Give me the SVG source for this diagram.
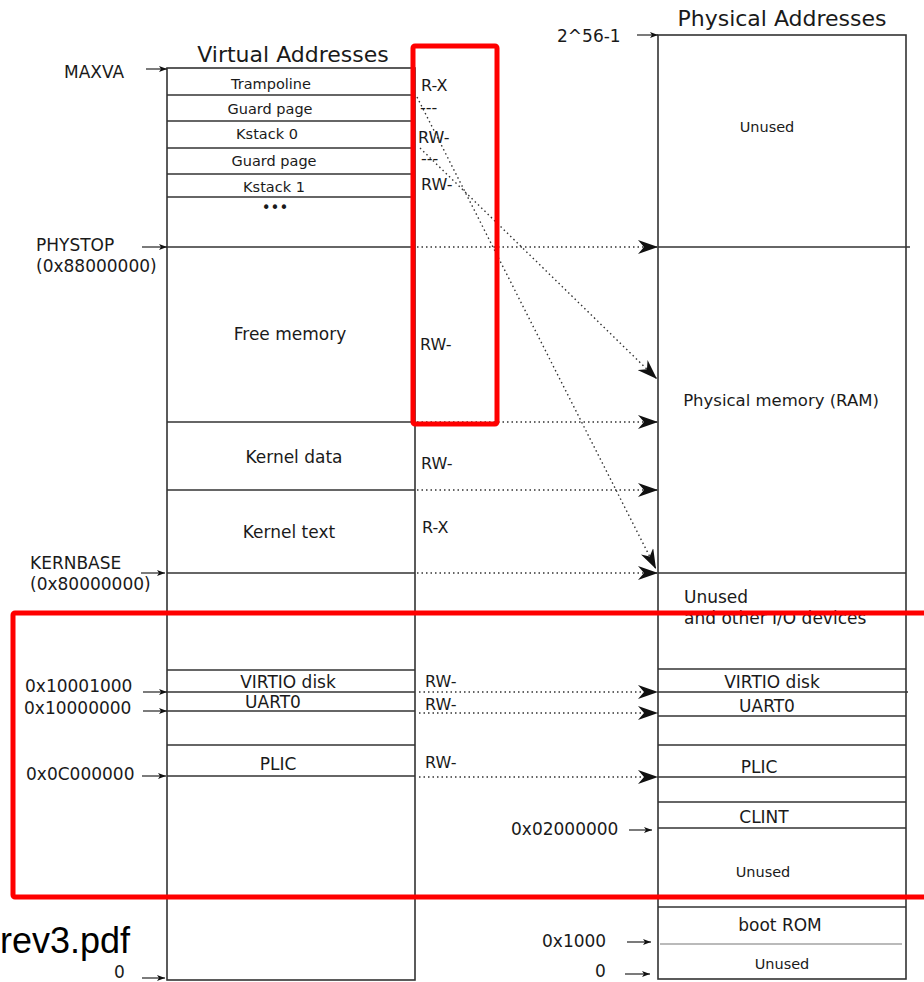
<svg xmlns="http://www.w3.org/2000/svg" width="924" height="982" viewBox="0 0 924 982">
<style>
  text { font-family: "DejaVu Sans", "Noto Sans", sans-serif; fill: #1a1a1a; }
  .t17 { font-size: 17px; }
  .sm { font-size: 14.5px; }
  .perm { font-size: 16px; }
  .title { font-size: 22px; }
  .mid { text-anchor: middle; }
  .box { fill: none; stroke: #333; stroke-width: 1.6; }
  .ln { stroke: #333; stroke-width: 1.6; }
  .thin { stroke: #777; stroke-width: 1.2; }
  .dot { stroke: #333; stroke-width: 1.4; stroke-dasharray: 1.5 3; fill: none; }
  .lab { stroke: #222; stroke-width: 1.2; fill: none; }
  .red { fill: none; stroke: #ff0000; stroke-width: 5; }
</style>
<defs>
  <marker id="dart" markerUnits="userSpaceOnUse" markerWidth="22" markerHeight="14" refX="20" refY="7" orient="auto">
    <path d="M0,0 L20,7 L0,14 L6,7 Z" fill="#111"/>
  </marker>
  <marker id="small" markerUnits="userSpaceOnUse" markerWidth="9" markerHeight="6" refX="8" refY="3" orient="auto">
    <path d="M0,0 L8,3 L0,6 L2,3 Z" fill="#111"/>
  </marker>
</defs>
<rect width="924" height="982" fill="#ffffff"/>

<g id="virtual">
  <text class="title mid" x="293" y="62">Virtual Addresses</text>
  <rect class="box" x="167" y="68" width="248" height="912"/>
  <g class="ln">
    <line x1="167" y1="95" x2="415" y2="95"/>
    <line x1="167" y1="121" x2="415" y2="121"/>
    <line x1="167" y1="148" x2="415" y2="148"/>
    <line x1="167" y1="174" x2="415" y2="174"/>
    <line x1="167" y1="197" x2="415" y2="197"/>
    <line x1="167" y1="247" x2="415" y2="247"/>
    <line x1="167" y1="422" x2="415" y2="422"/>
    <line x1="167" y1="490" x2="415" y2="490"/>
    <line x1="167" y1="573" x2="415" y2="573"/>
    <line x1="167" y1="670" x2="415" y2="670"/>
    <line x1="167" y1="692" x2="415" y2="692"/>
    <line x1="167" y1="711" x2="415" y2="711"/>
    <line x1="167" y1="745" x2="415" y2="745"/>
    <line x1="167" y1="776" x2="415" y2="776"/>
  </g>
  <g id="va-trampoline"><text class="sm mid" x="271" y="89">Trampoline</text><text class="perm" x="421" y="91">R-X</text></g>
  <g id="va-guard0"><text class="sm mid" x="270" y="114">Guard page</text><text class="perm" x="420" y="113">---</text></g>
  <g id="va-kstack0"><text class="sm mid" x="267" y="139">Kstack 0</text><text class="perm" x="418" y="143">RW-</text></g>
  <g id="va-guard1"><text class="sm mid" x="274" y="166">Guard page</text><text class="perm" x="421" y="164">---</text></g>
  <g id="va-kstack1"><text class="sm mid" x="274" y="192">Kstack 1</text><text class="perm" x="421" y="190">RW-</text></g>
  <g id="va-dots"><text class="mid" x="275" y="213" style="font-size:15px">•••</text></g>
  <g id="va-free"><text class="t17 mid" x="290" y="340">Free memory</text><text class="perm" x="420" y="350">RW-</text></g>
  <g id="va-kdata"><text class="t17 mid" x="294" y="463">Kernel data</text><text class="perm" x="421" y="469">RW-</text></g>
  <g id="va-ktext"><text class="t17 mid" x="289" y="538">Kernel text</text><text class="perm" x="422" y="533">R-X</text></g>
  <g id="va-virtio"><text class="t17 mid" x="288" y="688">VIRTIO disk</text><text class="perm" x="425" y="687">RW-</text></g>
  <g id="va-uart"><text class="t17 mid" x="273" y="708">UART0</text><text class="perm" x="425" y="710">RW-</text></g>
  <g id="va-plic"><text class="t17 mid" x="278" y="770">PLIC</text><text class="perm" x="425" y="768">RW-</text></g>
</g>

<g id="va-labels">
  <text class="t17" x="64" y="78">MAXVA</text>
  <text class="t17" x="36" y="251">PHYSTOP</text>
  <text class="t17" x="36" y="272">(0x88000000)</text>
  <text class="t17" x="30" y="569">KERNBASE</text>
  <text class="t17" x="30" y="590">(0x80000000)</text>
  <text class="t17" x="25" y="692">0x10001000</text>
  <text class="t17" x="24" y="714">0x10000000</text>
  <text class="t17" x="26" y="780">0x0C000000</text>
  <text class="t17" x="114" y="978">0</text>
</g>

<g id="physical">
  <text class="title mid" x="782" y="26">Physical Addresses</text>
  <rect class="box" x="658" y="35" width="248" height="944"/>
  <g class="ln">
    <line x1="658" y1="247" x2="910" y2="247"/>
    <line x1="658" y1="573" x2="906" y2="573"/>
    <line x1="658" y1="669" x2="906" y2="669"/>
    <line x1="658" y1="692" x2="908" y2="692"/>
    <line x1="658" y1="716" x2="906" y2="716"/>
    <line x1="658" y1="745" x2="906" y2="745"/>
    <line x1="658" y1="777" x2="906" y2="777"/>
    <line x1="658" y1="802" x2="906" y2="802"/>
    <line x1="658" y1="828" x2="906" y2="828"/>
    <line x1="658" y1="907" x2="906" y2="907"/>
  </g>
  <line class="thin" x1="660" y1="944" x2="902" y2="944"/>
  <g id="pa-unused-top"><text class="sm mid" x="767" y="132">Unused</text></g>
  <g id="pa-ram"><text class="mid" x="781" y="406" style="font-size:16.5px">Physical memory (RAM)</text></g>
  <g id="pa-io"><text class="t17" x="684" y="603">Unused</text><text class="t17" x="684" y="624">and other I/O devices</text></g>
  <g id="pa-virtio"><text class="t17 mid" x="772" y="688">VIRTIO disk</text></g>
  <g id="pa-uart"><text class="t17 mid" x="767" y="712">UART0</text></g>
  <g id="pa-plic"><text class="t17 mid" x="759" y="773">PLIC</text></g>
  <g id="pa-clint"><text class="t17 mid" x="764" y="823">CLINT</text></g>
  <g id="pa-unused-mid"><text class="sm mid" x="763" y="877">Unused</text></g>
  <g id="pa-bootrom"><text class="t17 mid" x="780" y="931">boot ROM</text></g>
  <g id="pa-unused-bottom"><text class="sm mid" x="782" y="969">Unused</text></g>
</g>

<g id="pa-labels">
  <text class="t17" x="557" y="42">2^56-1</text>
  <text class="t17" x="511" y="835">0x02000000</text>
  <text class="t17" x="542" y="947">0x1000</text>
  <text class="t17" x="595" y="977">0</text>
</g>

<g id="connectors">
  <g class="lab" marker-end="url(#small)">
    <line x1="146" y1="69" x2="167" y2="69"/>
    <line x1="142" y1="247" x2="167" y2="247"/>
    <line x1="141" y1="573" x2="165" y2="573"/>
    <line x1="143" y1="692" x2="167" y2="692"/>
    <line x1="143" y1="711" x2="167" y2="711"/>
    <line x1="142" y1="776" x2="166" y2="776"/>
    <line x1="142" y1="978" x2="165" y2="978"/>
    <line x1="637" y1="35" x2="658" y2="35"/>
    <line x1="629" y1="830" x2="652" y2="830"/>
    <line x1="627" y1="942" x2="651" y2="942"/>
    <line x1="625" y1="974" x2="650" y2="974"/>
  </g>
  <g class="dot" marker-end="url(#dart)">
    <line x1="417" y1="247" x2="658" y2="247"/>
    <line x1="417" y1="422" x2="658" y2="422"/>
    <line x1="417" y1="490" x2="658" y2="490"/>
    <line x1="417" y1="573" x2="658" y2="573"/>
    <line x1="419" y1="692" x2="658" y2="692"/>
    <line x1="419" y1="713" x2="658" y2="713"/>
    <line x1="419" y1="777" x2="658" y2="777"/>
    <line x1="417" y1="97" x2="656" y2="569"/>
    <line x1="420" y1="148" x2="657" y2="379"/>
  </g>
</g>

<g id="highlights">
  <rect class="red" x="413" y="46" width="84" height="378" rx="2"/>
  <rect class="red" x="13" y="613" width="930" height="284" rx="2"/>
</g>

<text x="0" y="953" style="font-family:'Liberation Sans', Arial, sans-serif; font-size:36px; fill:#000">rev3.pdf</text>
</svg>
